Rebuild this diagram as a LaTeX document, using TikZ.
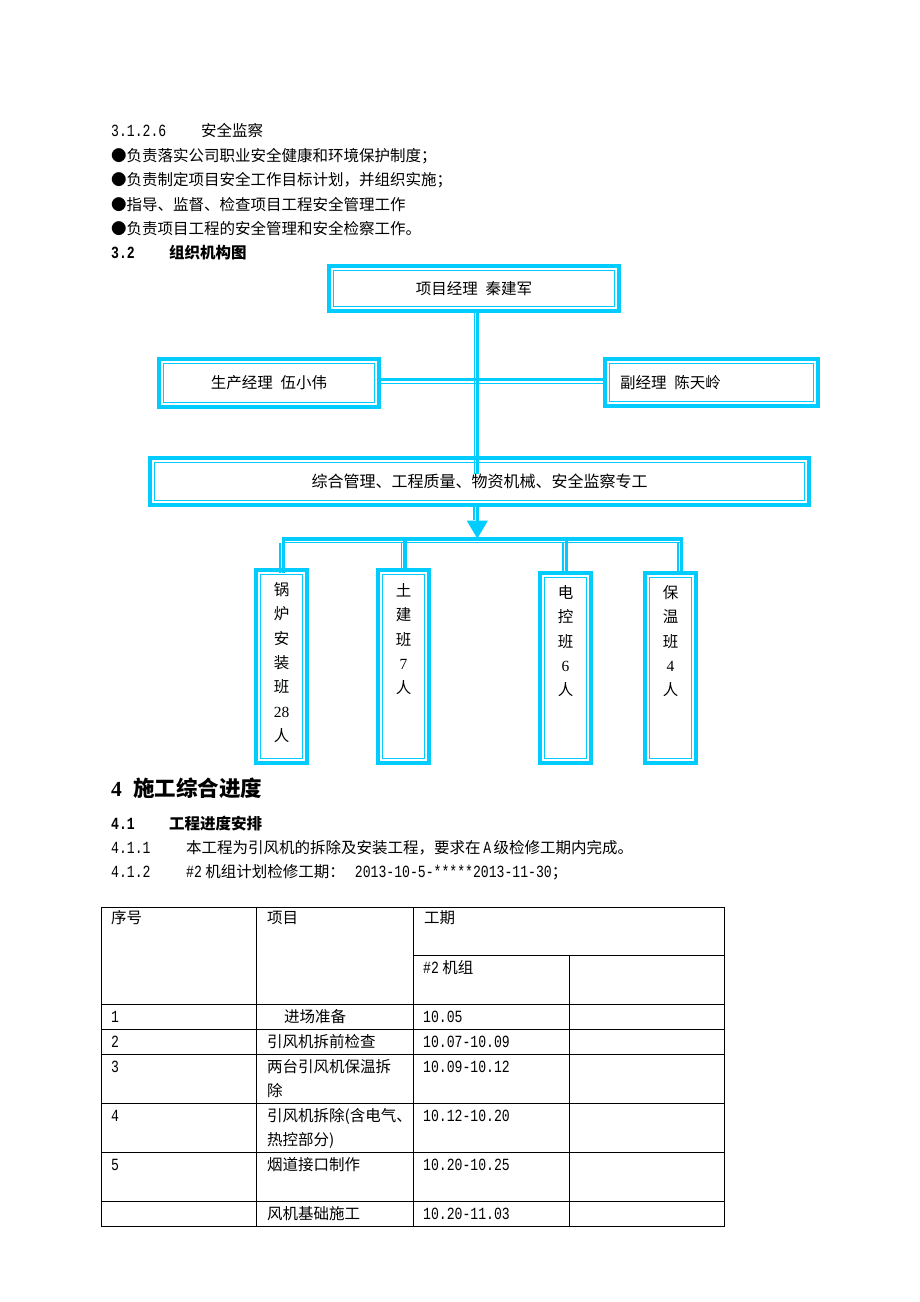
\documentclass[tikz,border=0pt]{standalone}
\usepackage{fontspec}
\setmainfont{Noto Sans CJK SC}
\newfontfamily\hwfont{Liberation Mono}[Scale=1.1,FakeStretch=0.77]
\newfontfamily\tnr{Liberation Serif}
\usetikzlibrary{arrows.meta}
\definecolor{skyc}{RGB}{0,204,255}

\tikzset{
    orgbox/.style={draw=skyc, line width=4pt, inner sep=0pt, font=\fontsize{15.5}{18}\selectfont,
        path picture={\draw[skyc, line width=1.2pt]
            ([shift={(4.5,4.5)}]path picture bounding box.north west) rectangle
            ([shift={(-4.5,-4.5)}]path picture bounding box.south east);}},
    thkln/.style={draw=skyc, line width=3.6pt},
    thnln/.style={draw=skyc, line width=1.2pt},
    txt/.style={anchor=base west, inner sep=0pt, font=\fontsize{15.5}{24}\selectfont},
    coltxt/.style={anchor=north, inner sep=0pt, align=center, font=\fontsize{15.5}{24.3}\selectfont},
    grid/.style={draw=black, line width=0.9pt}
}

\begin{document}
\begin{tikzpicture}[x=1pt,y=-1pt]

        \fill[white] (0,0) rectangle (920,1302);
        \useasboundingbox (0,0) rectangle (920,1302);

        \node[txt] (s126) at (111,136.9) {\makebox[90pt][l]{\hwfont 3.1.2.6}安全监察};
        \node[txt] (b1) at (111,161.9) {●负责落实公司职业安全健康和环境保护制度；};
        \node[txt] (b2) at (111,185.9) {●负责制定项目安全工作目标计划，并组织实施；};
        \node[txt] (b3) at (111,210.9) {●指导、监督、检查项目工程安全管理工作};
        \node[txt] (b4) at (111,234.9) {●负责项目工程的安全管理和安全检察工作。};
        \node[txt, font=\fontsize{15.5}{24}\selectfont\bfseries] (s32) at (111,258.9) {\makebox[58pt][l]{\hwfont\bfseries 3.2}组织机构图};

        % org chart
        \node[orgbox, minimum width=290pt, minimum height=45pt] (pm) at (474,288.5) {项目经理\hspace{0.5em}秦建军};
        \node[orgbox, minimum width=220pt, minimum height=48pt] (prod) at (269,383) {生产经理\hspace{0.5em}伍小伟};
        \node[orgbox, minimum width=213pt, minimum height=47pt, text width=183pt, inner xsep=15pt, align=left] (vice) at (711.5,382.5) {副经理\hspace{0.5em}陈天岭};
        \node[orgbox, minimum width=659pt, minimum height=47pt, font=\fontsize{16}{18}\selectfont] (staff) at (479.5,481.5) {综合管理、工程质量、物资机械、安全监察专工};

        \node[orgbox, minimum width=51pt, minimum height=193pt] (t1) at (281.5,666.5) {};
        \node[orgbox, minimum width=51pt, minimum height=193pt] (t2) at (403.5,666.5) {};
        \node[orgbox, minimum width=51pt, minimum height=190pt] (t3) at (565.5,668) {};
        \node[orgbox, minimum width=51pt, minimum height=190pt] (t4) at (670.5,668) {};

        \node[coltxt] (t1txt) at ([yshift=-14.5pt]t1.north) {锅\\炉\\安\\装\\班\\{\tnr 28}\\人};
        \node[coltxt] (t2txt) at ([yshift=-15.5pt]t2.north) {土\\建\\班\\{\tnr 7}\\人};
        \node[coltxt] (t3txt) at ([yshift=-14.5pt]t3.north) {电\\控\\班\\{\tnr 6}\\人};
        \node[coltxt] (t4txt) at ([yshift=-14.5pt]t4.north) {保\\温\\班\\{\tnr 4}\\人};

        \coordinate (hub) at (477.5,474);
        \draw[thkln] ([xshift=3.5pt]pm.south) -- (hub);
        \draw[thnln] ([xshift=0.2pt]pm.south) -- ([xshift=-3.3pt]hub);

        \draw[thkln, line width=3pt] ([yshift=3.3pt]prod.east) -- ([yshift=3.3pt]prod.east -| vice.west);
        \draw[thnln] ([yshift=-0.3pt]prod.east) -- ([yshift=-0.3pt]prod.east -| vice.west);

        \coordinate (fork) at (477.3,538.7);
        \draw[thkln, -{Triangle[length=18pt,width=20pt]}] (staff.south -| fork) -- (fork);
        \draw[thnln] (fork) ++(-3.3,-33.7) -- ++(0,15);

        \coordinate (barl) at (281.5,538.7);
        \coordinate (barr) at (683,538.7);
        \draw[thkln, line width=4pt] (barl) -- (barr);
        \draw[thnln] ([yshift=-3.8pt]barl) -- ([yshift=-3.8pt]barr);

        \draw[thkln] ([shift={(1.8,5)}]t1.north) -- ([xshift=1.8pt]t1.north |- barl);
        \draw[thnln] ([shift={(-1.5,5)}]t1.north) -- ([shift={(-1.5,3.8)}]t1.north |- barl);
        \draw[thkln] ([shift={(1.5,3)}]t2.north) -- ([xshift=1.5pt]t2.north |- barl);
        \draw[thnln] ([shift={(-2,3)}]t2.north) -- ([shift={(-2,3.8)}]t2.north |- barl);
        \draw[thkln] ([shift={(1,0)}]t3.north) -- ([xshift=1pt]t3.north |- barl);
        \draw[thnln] ([shift={(-2.5,0)}]t3.north) -- ([shift={(-2.5,3.8)}]t3.north |- barl);
        \draw[thkln] ([shift={(10.8,0)}]t4.north) -- ([xshift=10.8pt]t4.north |- barl);
        \draw[thnln] ([shift={(7.5,0)}]t4.north) -- ([shift={(7.5,3.8)}]t4.north |- barl);

        % section 4
        \node[txt, font=\fontsize{21.5}{24}\selectfont\bfseries] (h4) at (111,796.2) {\makebox[22pt][l]{\tnr\bfseries 4}施工综合进度};
        \node[txt, font=\fontsize{15.5}{24}\selectfont\bfseries] (s41) at (111,829.9) {\makebox[58pt][l]{\hwfont\bfseries 4.1}工程进度安排};
        \node[txt] (s411) at (111,853.9) {\makebox[75pt][l]{\hwfont 4.1.1}本工程为引风机的拆除及安装工程，要求在\,{\hwfont A}\,级检修工期内完成。};
        \node[txt] (s412) at (111,877.9) {\makebox[75pt][l]{\hwfont 4.1.2}{\hwfont\#2} 机组计划检修工期：\hspace{10pt}{\hwfont 2013-10-5-*****2013-11-30}；};

        % table
        \draw[grid] (101,907) rectangle (724,1226);
        \draw[grid] (256,907) -- (256,1226);
        \draw[grid] (413,907) -- (413,1226);
        \draw[grid] (569,955) -- (569,1226);
        \draw[grid] (413,955) -- (724,955);
        \foreach \y in {1004,1029,1054,1103,1152,1201}
            \draw[grid] (101,\y) -- (724,\y);

        \node[txt] (c01) at (111,923.9) {序号};
        \node[txt] (c02) at (267,923.9) {项目};
        \node[txt] (c03) at (424,923.9) {工期};
        \node[txt] (c04) at (423,973.9) {{\hwfont\#2} 机组};

        \node[txt] (c11) at (111,1022.9) {\hwfont 1};
        \node[txt] (c12) at (284,1022.9) {进场准备};
        \node[txt] (c13) at (423,1022.9) {\hwfont 10.05};

        \node[txt] (c21) at (111,1047.9) {\hwfont 2};
        \node[txt] (c22) at (267,1047.9) {引风机拆前检查};
        \node[txt] (c23) at (423,1047.9) {\hwfont 10.07-10.09};

        \node[txt] (c31) at (111,1072.9) {\hwfont 3};
        \node[txt] (c32) at (267,1072.9) {两台引风机保温拆};
        \node[txt] (c32b) at (267,1096.9) {除};
        \node[txt] (c33) at (423,1072.9) {\hwfont 10.09-10.12};

        \node[txt] (c41) at (111,1121.9) {\hwfont 4};
        \node[txt] (c42) at (267,1121.9) {引风机拆除(含电气、};
        \node[txt] (c42b) at (267,1145.9) {热控部分)};
        \node[txt] (c43) at (423,1121.9) {\hwfont 10.12-10.20};

        \node[txt] (c51) at (111,1170.9) {\hwfont 5};
        \node[txt] (c52) at (267,1170.9) {烟道接口制作};
        \node[txt] (c53) at (423,1170.9) {\hwfont 10.20-10.25};

        \node[txt] (c62) at (267,1219.9) {风机基础施工};
        \node[txt] (c63) at (423,1219.9) {\hwfont 10.20-11.03};

\end{tikzpicture}
\end{document}
